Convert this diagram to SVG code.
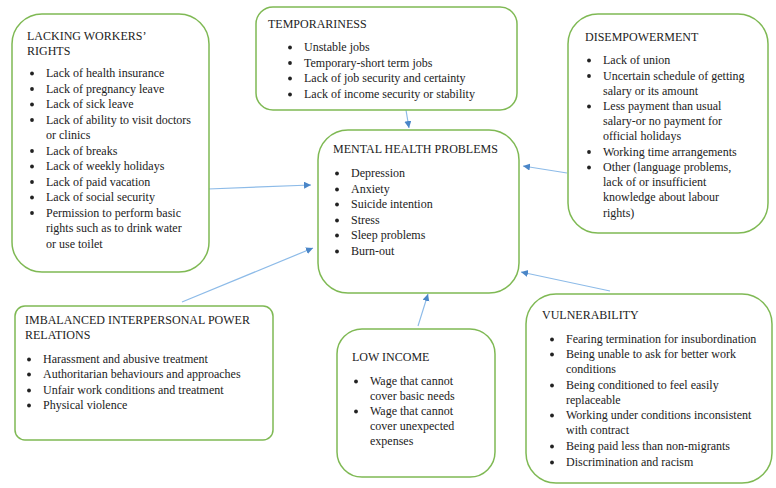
<svg xmlns="http://www.w3.org/2000/svg" width="776" height="488" viewBox="0 0 776 488">
<style>
.box{fill:#fff;stroke:#7fb954;stroke-width:1.5}
text{font-family:"Liberation Serif","Times New Roman",serif;font-size:12px;fill:#222}
.b{fill:#222}
.c{fill:none;stroke:#8dbbe8;stroke-width:1.2}
</style>
<defs>
<marker id="ah" markerUnits="userSpaceOnUse" markerWidth="8" markerHeight="8" refX="7" refY="3.5" orient="auto">
<path d="M0,0 L7,3.5 L0,7 z" fill="#4a86c8"/>
</marker>
</defs>
<rect width="776" height="488" fill="#fff"/>
<g id="connectors">
<line class="c" x1="208" y1="189" x2="311" y2="185" marker-end="url(#ah)"/>
<line class="c" x1="406" y1="110" x2="409" y2="128" marker-end="url(#ah)"/>
<line class="c" x1="567" y1="173" x2="523" y2="166" marker-end="url(#ah)"/>
<line class="c" x1="182" y1="302" x2="313" y2="248" marker-end="url(#ah)"/>
<line class="c" x1="418" y1="326" x2="428" y2="294" marker-end="url(#ah)"/>
<line class="c" x1="610" y1="291" x2="521" y2="272" marker-end="url(#ah)"/>
</g>
<g id="lacking">
<rect class="box" x="12" y="14" width="197" height="258" rx="30"/>
<text x="27" y="40">LACKING WORKERS’</text>
<text x="27" y="55">RIGHTS</text>
<circle class="b" cx="32" cy="73.5" r="1.9"/><text x="46" y="77">Lack of health insurance</text>
<circle class="b" cx="32" cy="89" r="1.9"/><text x="46" y="92.5">Lack of pregnancy leave</text>
<circle class="b" cx="32" cy="104.5" r="1.9"/><text x="46" y="108">Lack of sick leave</text>
<circle class="b" cx="32" cy="120" r="1.9"/><text x="46" y="123.5">Lack of ability to visit doctors</text>
<text x="46" y="139">or clinics</text>
<circle class="b" cx="32" cy="151" r="1.9"/><text x="46" y="154.5">Lack of breaks</text>
<circle class="b" cx="32" cy="166.5" r="1.9"/><text x="46" y="170">Lack of weekly holidays</text>
<circle class="b" cx="32" cy="182" r="1.9"/><text x="46" y="185.5">Lack of paid vacation</text>
<circle class="b" cx="32" cy="197.5" r="1.9"/><text x="46" y="201">Lack of social security</text>
<circle class="b" cx="32" cy="213" r="1.9"/><text x="46" y="216.5">Permission to perform basic</text>
<text x="46" y="232">rights such as to drink water</text>
<text x="46" y="247.5">or use toilet</text>
</g>
<g id="temporariness">
<rect class="box" x="256" y="7" width="261" height="103" rx="17"/>
<text x="268" y="28">TEMPORARINESS</text>
<circle class="b" cx="290" cy="47.5" r="1.9"/><text x="304" y="51">Unstable jobs</text>
<circle class="b" cx="290" cy="63" r="1.9"/><text x="304" y="66.5">Temporary-short term jobs</text>
<circle class="b" cx="290" cy="78.5" r="1.9"/><text x="304" y="82">Lack of job security and certainty</text>
<circle class="b" cx="290" cy="94.5" r="1.9"/><text x="304" y="98">Lack of income security or stability</text>
</g>
<g id="disempowerment">
<rect class="box" x="568" y="14" width="200" height="219" rx="30"/>
<text x="585" y="41">DISEMPOWERMENT</text>
<circle class="b" cx="589" cy="60.5" r="1.9"/><text x="603" y="64">Lack of union</text>
<circle class="b" cx="589" cy="76" r="1.9"/><text x="603" y="79.5">Uncertain schedule of getting</text>
<text x="603" y="94.5">salary or its amount</text>
<circle class="b" cx="589" cy="106.5" r="1.9"/><text x="603" y="110">Less payment than usual</text>
<text x="603" y="125">salary-or no payment for</text>
<text x="603" y="140">official holidays</text>
<circle class="b" cx="589" cy="152" r="1.9"/><text x="603" y="155.5">Working time arrangements</text>
<circle class="b" cx="589" cy="167.5" r="1.9"/><text x="603" y="171">Other (language problems,</text>
<text x="603" y="186">lack of or insufficient</text>
<text x="603" y="201">knowledge about labour</text>
<text x="603" y="216.5">rights)</text>
</g>
<g id="mental">
<rect class="box" x="318" y="130" width="201" height="163" rx="30"/>
<text x="333" y="153">MENTAL HEALTH PROBLEMS</text>
<circle class="b" cx="337" cy="173.5" r="1.9"/><text x="351" y="177">Depression</text>
<circle class="b" cx="337" cy="189.5" r="1.9"/><text x="351" y="193">Anxiety</text>
<circle class="b" cx="337" cy="204.5" r="1.9"/><text x="351" y="208">Suicide intention</text>
<circle class="b" cx="337" cy="220.5" r="1.9"/><text x="351" y="224">Stress</text>
<circle class="b" cx="337" cy="235.5" r="1.9"/><text x="351" y="239">Sleep problems</text>
<circle class="b" cx="337" cy="251.5" r="1.9"/><text x="351" y="255">Burn-out</text>
</g>
<g id="imbalanced">
<rect class="box" x="15" y="306" width="258" height="134" rx="10"/>
<text x="25" y="324">IMBALANCED INTERPERSONAL POWER</text>
<text x="25" y="339">RELATIONS</text>
<circle class="b" cx="29" cy="359.5" r="1.9"/><text x="43" y="363">Harassment and abusive treatment</text>
<circle class="b" cx="29" cy="374.5" r="1.9"/><text x="43" y="378">Authoritarian behaviours and approaches</text>
<circle class="b" cx="29" cy="390.5" r="1.9"/><text x="43" y="394">Unfair work conditions and treatment</text>
<circle class="b" cx="29" cy="405.5" r="1.9"/><text x="43" y="409">Physical violence</text>
</g>
<g id="lowincome">
<rect class="box" x="337" y="329" width="158" height="148" rx="25"/>
<text x="352" y="361">LOW INCOME</text>
<circle class="b" cx="356" cy="381.5" r="1.9"/><text x="370" y="385">Wage that cannot</text>
<text x="370" y="400">cover basic needs</text>
<circle class="b" cx="356" cy="411.5" r="1.9"/><text x="370" y="415">Wage that cannot</text>
<text x="370" y="430">cover unexpected</text>
<text x="370" y="445">expenses</text>
</g>
<g id="vulnerability">
<rect class="box" x="526" y="294" width="246" height="189" rx="30"/>
<text x="542" y="319">VULNERABILITY</text>
<circle class="b" cx="552" cy="339.5" r="1.9"/><text x="566" y="343">Fearing termination for insubordination</text>
<circle class="b" cx="552" cy="354.5" r="1.9"/><text x="566" y="358">Being unable to ask for better work</text>
<text x="566" y="373">conditions</text>
<circle class="b" cx="552" cy="385.5" r="1.9"/><text x="566" y="389">Being conditioned to feel easily</text>
<text x="566" y="404">replaceable</text>
<circle class="b" cx="552" cy="415.5" r="1.9"/><text x="566" y="419">Working under conditions inconsistent</text>
<text x="566" y="434">with contract</text>
<circle class="b" cx="552" cy="446.5" r="1.9"/><text x="566" y="450">Being paid less than non-migrants</text>
<circle class="b" cx="552" cy="462.5" r="1.9"/><text x="566" y="466">Discrimination and racism</text>
</g>
</svg>
